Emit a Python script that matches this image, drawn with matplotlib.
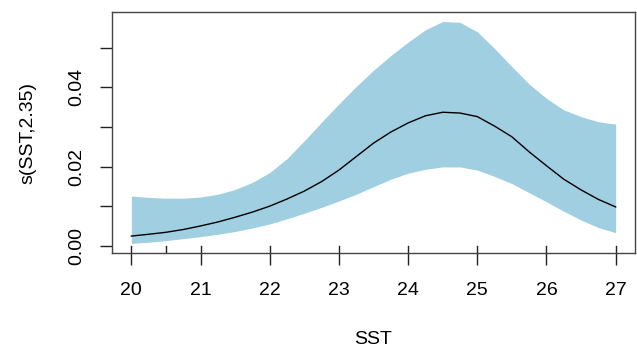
import numpy as np
import matplotlib
matplotlib.use("Agg")
import matplotlib.pyplot as plt

plt.rcParams['font.family'] = ['Liberation Sans', 'DejaVu Sans']

# smooth term s(SST,2.35) at 0.25 steps
sst = [20.0, 20.25, 20.5, 20.75, 21.0, 21.25, 21.5, 21.75, 22.0, 22.25,
       22.5, 22.75, 23.0, 23.25, 23.5, 23.75, 24.0, 24.25, 24.5, 24.75,
       25.0, 25.25, 25.5, 25.75, 26.0, 26.25, 26.5, 26.75, 27.0]
fit = [0.00245, 0.0029, 0.0034, 0.0041, 0.0050, 0.0060, 0.0072, 0.0085, 0.0100, 0.0118,
       0.0138, 0.0162, 0.0191, 0.0225, 0.0259, 0.0287, 0.0310, 0.0328, 0.0337, 0.0335,
       0.0326, 0.0302, 0.0275, 0.0237, 0.0202, 0.0168, 0.0141, 0.0117, 0.0098]
upper = [0.01255, 0.0122, 0.0120, 0.0120, 0.0123, 0.0130, 0.0142, 0.0160, 0.0185, 0.0220,
         0.0265, 0.0312, 0.0358, 0.0402, 0.0443, 0.0480, 0.0514, 0.0545, 0.0566, 0.0564,
         0.0540, 0.0498, 0.0452, 0.0408, 0.0372, 0.0343, 0.0326, 0.0313, 0.0307]
lower = [0.0006, 0.0009, 0.0013, 0.0018, 0.0023, 0.0029, 0.0036, 0.0045, 0.0055, 0.0068,
         0.0082, 0.0097, 0.0113, 0.0130, 0.0149, 0.0168, 0.0183, 0.0193, 0.0199, 0.0199,
         0.0191, 0.0175, 0.0157, 0.0134, 0.0111, 0.0087, 0.0065, 0.0046, 0.0033]
rug = [20, 20.5, 21, 22, 23, 24, 25, 26, 27]

xticks = [20, 21, 22, 23, 24, 25, 26, 27]
yticks = [0.00, 0.01, 0.02, 0.03, 0.04, 0.05]
ylabels = ["0.00", "", "0.02", "", "0.04", ""]

fig = plt.figure(figsize=(6.37, 3.5), dpi=100)
ax = fig.add_axes([0.1758, 0.277, 0.8211, 0.6887])

ax.fill_between(sst, lower, upper, color="#9fcfe0", linewidth=0)
ax.plot(sst, fit, color="black", lw=1.0)

ax.set_xlim(19.72, 27.28)
ax.set_ylim(-0.00184, 0.0590)

# rug, drawn inward from the bottom of the box
for r in rug:
    ax.axvline(r, ymin=0, ymax=0.028, color="#222222", lw=1.0)

ax.set_xticks(xticks)
ax.set_yticks(yticks)
ax.set_yticklabels(ylabels, rotation=90, va="center")
ax.tick_params(axis="both", labelsize=14, length=8.6, width=1.0, color="#222222")
ax.tick_params(axis="x", pad=12)
ax.tick_params(axis="y", pad=11)

for s in ax.spines.values():
    s.set_color("#444444")
    s.set_linewidth(1.0)

fig.text(373.5 / 637, 1 - 339 / 350, "SST", fontsize=14, ha="center", va="center")
fig.text(28 / 637, 1 - 133 / 350, "s(SST,2.35)", fontsize=14, rotation=90,
         ha="center", va="center")

fig.savefig("out.png", dpi=100)
